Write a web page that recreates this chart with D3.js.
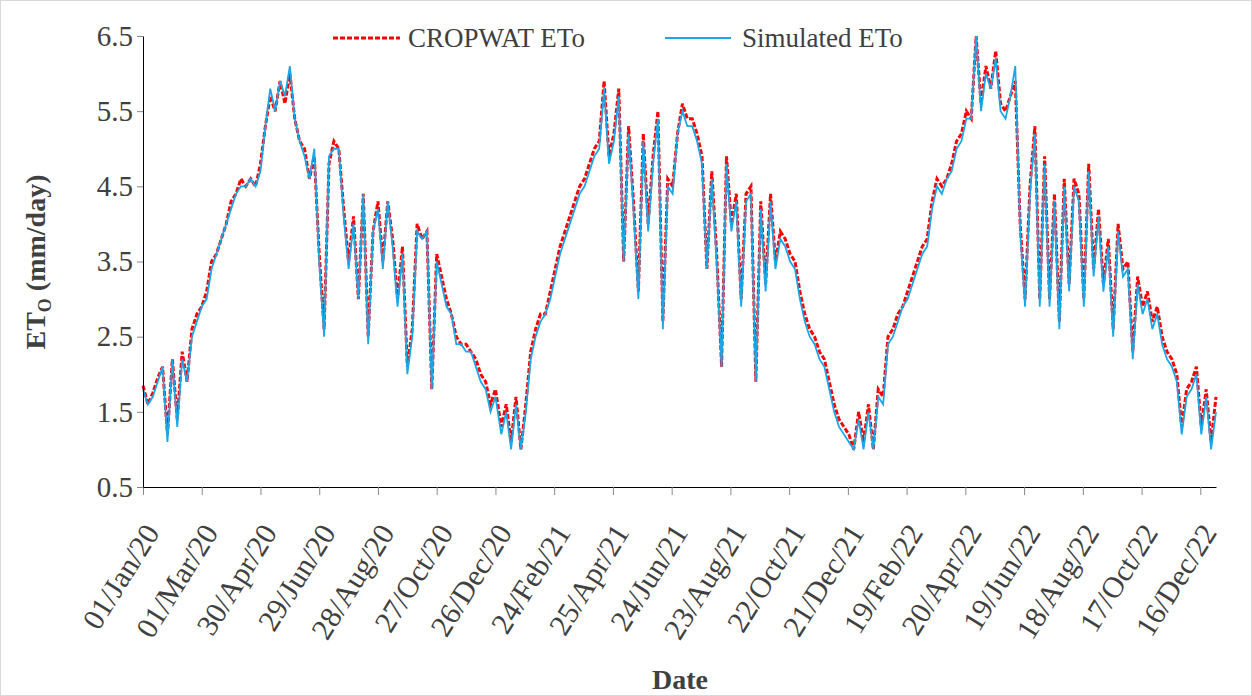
<!DOCTYPE html>
<html><head><meta charset="utf-8">
<script src="https://cdn.jsdelivr.net/npm/d3@7"></script>
<style>body{margin:0;background:#fff}svg{display:block}svg text{font-family:'Liberation Serif','Times New Roman',serif !important}</style>
</head><body><svg id="c" width="1252" height="696"></svg>
<script>
// CROPWAT ETo, one value every 5 days, per year
const crop2020=[1.85,1.6,1.75,1.95,2.1,1.2,2.2,1.4,2.3,1.9,2.6,2.8,2.9,3.1,3.5,3.6,3.8,4.0,4.3,4.4,4.6,4.5,4.6,4.5,4.8,5.3,5.7,5.5,5.9,5.6,6.0,5.4,5.1,5.0,4.6,4.9,3.6,2.6,4.8,5.1,5.0,4.2,3.5,4.1,3.0,4.4,2.5,3.9,4.3,3.5,4.3,3.8,3.0,3.7,2.1,2.6,4.0,3.8,3.9,1.8,3.6,3.3,3.0,2.8,2.5,2.4,2.4,2.3,2.2,2.0,1.9,1.6,1.8];
const crop2021=[1.3,1.6,1.1,1.7,1.0,1.6,2.3,2.6,2.8,2.8,3.1,3.4,3.7,3.9,4.1,4.3,4.5,4.6,4.8,5.0,5.1,5.9,4.9,5.2,5.8,3.5,5.3,4.3,3.1,5.2,4.0,4.9,5.5,2.7,4.6,4.5,5.2,5.6,5.4,5.4,5.2,4.9,3.4,4.7,3.6,2.1,4.9,4.0,4.4,3.0,4.4,4.5,1.9,4.3,3.2,4.4,3.5,3.9,3.8,3.6,3.5,3.1,2.8,2.6,2.5,2.3,2.2,1.9,1.6,1.4,1.3,1.2,1.0];
const crop2022=[1.5,1.1,1.6,1.0,1.8,1.7,2.5,2.6,2.8,2.9,3.1,3.3,3.5,3.7,3.8,4.3,4.6,4.5,4.6,4.8,5.1,5.2,5.5,5.4,6.5,5.6,6.1,5.8,6.3,5.6,5.5,5.7,5.9,4.0,3.0,4.5,5.3,3.0,4.9,3.0,4.4,2.7,4.6,3.2,4.6,4.4,3.0,4.8,3.4,4.2,3.2,3.8,2.6,4.0,3.4,3.5,2.3,3.3,2.9,3.1,2.7,2.9,2.5,2.3,2.2,2.0,1.3,1.8,1.9,2.1,1.3,1.8,1.1,1.7];
// Simulated ETo
const sim2020=[1.8,1.6,1.7,1.9,2.1,1.1,2.2,1.3,2.2,1.9,2.5,2.7,2.9,3.0,3.4,3.6,3.8,4.0,4.2,4.4,4.5,4.5,4.6,4.5,4.7,5.3,5.8,5.5,5.9,5.7,6.1,5.4,5.1,4.9,4.6,5.0,3.5,2.5,4.9,5.0,5.0,4.1,3.4,4.0,3.0,4.4,2.4,3.9,4.2,3.4,4.3,3.7,2.9,3.6,2.0,2.5,3.9,3.8,3.9,1.8,3.5,3.2,2.9,2.8,2.4,2.4,2.3,2.3,2.1,1.9,1.8,1.5,1.7];
const sim2021=[1.2,1.5,1.0,1.6,1.0,1.5,2.2,2.5,2.7,2.8,3.0,3.3,3.6,3.8,4.0,4.2,4.4,4.5,4.7,4.9,5.0,5.8,4.8,5.1,5.7,3.5,5.2,4.2,3.0,5.1,3.9,4.8,5.4,2.6,4.5,4.4,5.2,5.5,5.3,5.3,5.1,4.8,3.4,4.6,3.5,2.1,4.8,3.9,4.3,2.9,4.3,4.4,1.9,4.2,3.1,4.3,3.4,3.8,3.7,3.5,3.4,3.0,2.7,2.5,2.4,2.2,2.1,1.8,1.5,1.3,1.2,1.1,1.0];
const sim2022=[1.4,1.0,1.5,1.0,1.7,1.6,2.4,2.5,2.7,2.9,3.0,3.2,3.4,3.6,3.7,4.2,4.5,4.4,4.6,4.7,5.0,5.1,5.4,5.4,6.5,5.5,6.0,5.8,6.2,5.5,5.4,5.7,6.1,3.9,2.9,4.4,5.2,2.9,4.8,2.9,4.3,2.6,4.5,3.1,4.5,4.3,2.9,4.7,3.3,4.1,3.1,3.7,2.5,3.9,3.3,3.4,2.2,3.2,2.8,3.0,2.6,2.8,2.4,2.2,2.1,1.9,1.2,1.7,1.8,2.0,1.2,1.7,1.0,1.5];
const years=[2020,2021,2022];
const yTicks=[0.5,1.5,2.5,3.5,4.5,5.5,6.5];

const svg=d3.select("#c");
svg.append("rect").attr("x",0.5).attr("y",0.5).attr("width",1251).attr("height",695).attr("fill","none").attr("stroke","#d9d9d9");
const G="#404040";
const t0=new Date(2020,0,1);
const x=d3.scaleTime().domain([t0,d3.timeDay.offset(t0,1096)]).range([143,143+0.979*1096]);
const y=d3.scaleLinear().domain([0.5,6.5]).range([487,36]);
function series(arrs){const out=[];arrs.forEach((a,k)=>a.forEach((v,i)=>out.push({d:d3.timeDay.offset(new Date(years[k],0,1),i*5),v})));return out;}
const cropD=series([crop2020,crop2021,crop2022]);
const simD=series([sim2020,sim2021,sim2022]);
const line=d3.line().x(d=>x(d.d)).y(d=>y(d.v));
svg.append("path").datum(cropD).attr("d",line).attr("fill","none").attr("stroke","#ff0000").attr("stroke-width",3).attr("stroke-dasharray","5,2");
svg.append("path").datum(simD).attr("d",line).attr("fill","none").attr("stroke","#1aa7e8").attr("stroke-width",1.8);

const xTicks=d3.range(19).map(i=>d3.timeDay.offset(t0,i*60));
const xa=svg.append("g").attr("transform","translate(0,487)").call(d3.axisBottom(x).tickValues(xTicks).tickFormat(d3.timeFormat("%d/%b/%y")).tickSize(8).tickSizeOuter(0));
xa.select(".domain").attr("stroke","#000");
xa.selectAll(".tick line").attr("stroke","#888");
xa.selectAll("text").attr("font-size",30).attr("fill",G).attr("text-anchor","end").attr("transform","translate(8,40) rotate(-58)").attr("dy","0.35em").attr("dx","0").attr("y",0).attr("x",0);
const ya=svg.append("g").attr("transform","translate(143,0)").call(d3.axisLeft(y).tickValues(yTicks).tickFormat(d3.format(".1f")).tickSize(6).tickSizeOuter(0));
ya.select(".domain").attr("stroke","#000");
ya.selectAll(".tick line").attr("stroke","#888");
ya.selectAll("text").attr("font-size",29).attr("fill",G).attr("x",-10);

const yt=svg.append("text").attr("transform","translate(45,262) rotate(-90)").attr("text-anchor","middle").attr("font-size",28).attr("font-weight","bold").attr("fill",G);
yt.append("tspan").text("ET");
yt.append("tspan").attr("font-size",18).attr("dy",6).text("O");
yt.append("tspan").attr("dy",-6).text(" (mm/day)");
svg.append("text").attr("x",680).attr("y",689).attr("text-anchor","middle").attr("font-size",28).attr("font-weight","bold").attr("fill",G).text("Date");

const lg=svg.append("g");
lg.append("line").attr("x1",333).attr("x2",400).attr("y1",38).attr("y2",38).attr("stroke","#ff0000").attr("stroke-width",3).attr("stroke-dasharray","5,2");
lg.append("text").attr("x",408).attr("y",47).attr("font-size",27).attr("fill",G).text("CROPWAT ETo");
lg.append("line").attr("x1",665).attr("x2",731).attr("y1",38).attr("y2",38).attr("stroke","#1aa7e8").attr("stroke-width",2);
lg.append("text").attr("x",742).attr("y",47).attr("font-size",27).attr("fill",G).text("Simulated ETo");
</script></body></html>
